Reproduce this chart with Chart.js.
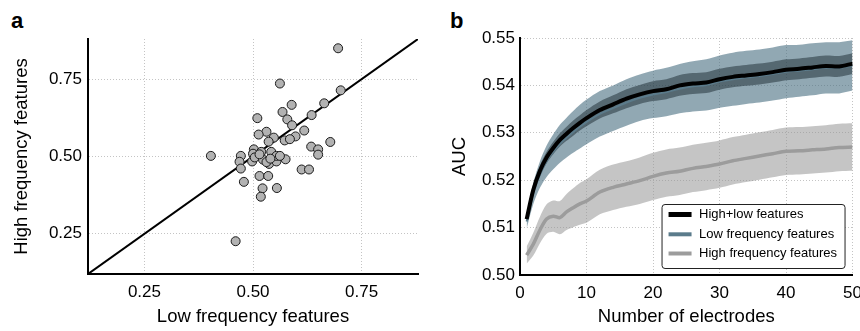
<!DOCTYPE html>
<html>
<head>
<meta charset="utf-8">
<script src="https://cdn.jsdelivr.net/npm/chart.js@4.4.1/dist/chart.umd.min.js"></script>
<style>
    body { margin: 0; width: 860px; height: 331px; overflow: hidden; background: #fff; position: relative; }
    .panel { position: absolute; top: 0; }
    .tag { position: absolute; font: bold 22px 'Liberation Sans', Arial, sans-serif; line-height: 22px; }
</style>
</head>
<body>
<div class="tag" style="left:11px; top:10px;">a</div>
<div class="tag" style="left:450px; top:10px;">b</div>
<div class="panel" style="left:0"><canvas id="scatter" width="430" height="331"></canvas></div>
<div class="panel" style="left:430px"><canvas id="auc" width="440" height="331"></canvas></div>
<script>
// panel a: per-electrode AUC, low vs high frequency features
var lowFreq = [0.696, 0.702, 0.562, 0.664, 0.589, 0.635, 0.568, 0.579, 0.510, 0.590,
    0.618, 0.598, 0.531, 0.513, 0.548, 0.536, 0.573, 0.585, 0.634, 0.650,
    0.650, 0.678, 0.502, 0.500, 0.403, 0.472, 0.469, 0.472, 0.479, 0.498,
    0.504, 0.519, 0.542, 0.523, 0.537, 0.554, 0.554, 0.575, 0.515, 0.535,
    0.522, 0.518, 0.555, 0.612, 0.629, 0.460, 0.531, 0.515, 0.562, 0.540];
var highFreq = [0.850, 0.714, 0.736, 0.672, 0.667, 0.634, 0.644, 0.620, 0.624, 0.601,
    0.584, 0.565, 0.580, 0.571, 0.561, 0.548, 0.552, 0.556, 0.532, 0.523,
    0.506, 0.547, 0.523, 0.509, 0.502, 0.502, 0.483, 0.461, 0.418, 0.484,
    0.497, 0.515, 0.515, 0.490, 0.476, 0.484, 0.502, 0.491, 0.437, 0.437,
    0.397, 0.370, 0.398, 0.458, 0.458, 0.226, 0.482, 0.507, 0.502, 0.493];
var identityLine = [0.12, 0.88];
var scatterTicks = [0.25, 0.50, 0.75];

// panel b: AUC vs number of electrodes (mean and CI half width)
var electrodes = [1, 2, 3, 4, 5, 6, 7, 8, 9, 10, 12, 14, 16, 18, 20, 22, 24, 26, 28, 30,
    32, 34, 36, 38, 40, 42, 44, 46, 48, 50];
var bothMean = [0.5118, 0.5180, 0.5220, 0.5248, 0.5268, 0.5285, 0.5298, 0.5310, 0.5321, 0.5331,
    0.5348, 0.5360, 0.5372, 0.5381, 0.5388, 0.5392, 0.5400, 0.5404, 0.5406, 0.5413,
    0.5418, 0.5421, 0.5424, 0.5428, 0.5433, 0.5435, 0.5438, 0.5441, 0.5440, 0.5446];
var bothErr = [0.0007, 0.0009, 0.0011, 0.0012, 0.0013, 0.0014, 0.0015, 0.0016, 0.0016, 0.0017,
    0.0018, 0.0019, 0.0020, 0.0020, 0.0021, 0.0021, 0.0022, 0.0022, 0.0022, 0.0022,
    0.0022, 0.0022, 0.0022, 0.0022, 0.0022, 0.0022, 0.0022, 0.0022, 0.0022, 0.0022];
var lowMean = [0.5113, 0.5172, 0.5212, 0.5240, 0.5260, 0.5277, 0.5290, 0.5302, 0.5313, 0.5323,
    0.5340, 0.5352, 0.5364, 0.5374, 0.5381, 0.5386, 0.5393, 0.5398, 0.5401, 0.5408,
    0.5413, 0.5417, 0.5420, 0.5424, 0.5429, 0.5431, 0.5434, 0.5437, 0.5437, 0.5442];
var lowErr = [0.0015, 0.0022, 0.0028, 0.0033, 0.0037, 0.0040, 0.0042, 0.0044, 0.0046, 0.0047,
    0.0048, 0.0048, 0.0049, 0.0049, 0.0050, 0.0051, 0.0052, 0.0053, 0.0054, 0.0055,
    0.0056, 0.0056, 0.0056, 0.0056, 0.0056, 0.0055, 0.0055, 0.0054, 0.0054, 0.0053];
var highMean = [0.5042, 0.5065, 0.5095, 0.5118, 0.5124, 0.5121, 0.5133, 0.5142, 0.5150, 0.5156,
    0.5175, 0.5185, 0.5192, 0.5199, 0.5208, 0.5215, 0.5219, 0.5225, 0.5229, 0.5234,
    0.5241, 0.5246, 0.5251, 0.5256, 0.5261, 0.5262, 0.5264, 0.5266, 0.5269, 0.5270];
var highErr = [0.0018, 0.0024, 0.0028, 0.0031, 0.0033, 0.0035, 0.0038, 0.0041, 0.0044, 0.0046,
    0.0047, 0.0048, 0.0048, 0.0049, 0.0050, 0.0050, 0.0050, 0.0050, 0.0050, 0.0050,
    0.0050, 0.0050, 0.0050, 0.0050, 0.0050, 0.0050, 0.0050, 0.0050, 0.0050, 0.0050];
var seriesNames = ["High+low features", "Low frequency features", "High frequency features"];
var lineColors = ["#000000", "#5b7b8b", "#9c9c9c"];

Chart.defaults.font.family = "'Liberation Sans', Arial, sans-serif";
Chart.defaults.color = "#000";
Chart.defaults.animation = false;

function pts(ys, sign, err) {
    return electrodes.map(function (x, i) {
        return { x: x, y: err ? ys[i] + sign * err[i] : ys[i] };
    });
}

function axis(min, max, title, titlePad) {
    return {
        type: "linear",
        min: min,
        max: max,
        border: { color: "#000", width: 2, dash: [1, 2] },
        grid: { color: "#c4c4c4", lineWidth: 1, drawTicks: false },
        ticks: { font: { size: 17 }, maxRotation: 0, autoSkip: false },
        title: { display: true, text: title, font: { size: 18.5 }, padding: titlePad },
    };
}

// panel a
var ax = axis(0.12, 0.88, "Low frequency features", { top: 0, bottom: 3 });
ax.afterBuildTicks = function (s) { s.ticks = scatterTicks.map(function (v) { return { value: v }; }); };
ax.afterFit = function (s) { s.height = 57; };
ax.ticks.padding = 8;
ax.ticks.callback = function (v) { return v.toFixed(2); };
var ay = axis(0.12, 0.88, "High frequency features", { top: 10.5, bottom: 0 });
ay.afterBuildTicks = ax.afterBuildTicks;
ay.afterFit = function (s) { s.width = 88; };
ay.ticks.padding = 6;
ay.ticks.callback = ax.ticks.callback;

new Chart("scatter", {
    type: "scatter",
    data: {
        datasets: [
            {
                data: lowFreq.map(function (x, i) { return { x: x, y: highFreq[i] }; }),
                backgroundColor: "#b2b2b2",
                borderColor: "#1a1a1a",
                borderWidth: 1,
                pointRadius: 4.5,
                order: 1,
            },
            {
                type: "line",
                data: identityLine.map(function (v) { return { x: v, y: v }; }),
                borderColor: "#000",
                borderWidth: 2,
                pointRadius: 0,
                order: 2,
            },
        ],
    },
    options: {
        responsive: false,
        layout: { padding: { left: 0, top: 39, right: 12, bottom: 0 } },
        plugins: { legend: { display: false }, tooltip: { enabled: false } },
        scales: { x: ax, y: ay },
    },
});

// panel b
var legendBox = {
    id: "legendBox",
    afterDraw: function (chart) {
        var ctx = chart.ctx, a = chart.chartArea;
        var x = a.right - 191, y = a.bottom - 71, w = 183, h = 64;
        ctx.save();
        ctx.fillStyle = "#fff";
        ctx.strokeStyle = "#222";
        ctx.lineWidth = 1;
        ctx.beginPath();
        ctx.roundRect(x + 0.5, y + 0.5, w, h, 3);
        ctx.fill();
        ctx.stroke();
        var rows = [10.5, 30.3, 49.5];
        var widths = [5, 4, 4];
        ctx.font = "13px 'Liberation Sans', Arial, sans-serif";
        ctx.textBaseline = "middle";
        for (var i = 0; i < seriesNames.length; i++) {
            ctx.strokeStyle = lineColors[i];
            ctx.lineWidth = widths[i];
            ctx.beginPath();
            ctx.moveTo(x + 7, y + rows[i]);
            ctx.lineTo(x + 30, y + rows[i]);
            ctx.stroke();
            ctx.fillStyle = "#000";
            ctx.fillText(seriesNames[i], x + 37.5, y + rows[i]);
        }
        ctx.restore();
    },
};

function band(mean, err, color, order) {
    return [
        { data: pts(mean, 1, err), fill: "+1", backgroundColor: color, borderWidth: 0, pointRadius: 0, tension: 0.3, order: order },
        { data: pts(mean, -1, err), fill: false, borderWidth: 0, pointRadius: 0, tension: 0.3, order: order },
    ];
}

function line(mean, color, width, order) {
    return { data: pts(mean), borderColor: color, borderWidth: width, pointRadius: 0, fill: false, tension: 0.3, order: order };
}

var bx = axis(0, 50, "Number of electrodes", { top: 0, bottom: 3 });
bx.ticks.stepSize = 10;
bx.ticks.padding = 8;
bx.afterFit = function (s) { s.height = 56; };
var by = axis(0.5, 0.55, "AUC", { top: 19, bottom: 0 });
by.ticks.stepSize = 0.01;
by.ticks.padding = 5;
by.ticks.callback = function (v) { return v.toFixed(2); };
by.afterFit = function (s) { s.width = 90; };

new Chart("auc", {
    type: "line",
    data: {
        datasets: []
            .concat(band(highMean, highErr, "rgba(150,150,150,0.55)", 9))
            .concat(band(lowMean, lowErr, "rgba(72,110,128,0.6)", 8))
            .concat(band(bothMean, bothErr, "rgba(25,40,48,0.5)", 7))
            .concat([
                line(highMean, lineColors[2], 3.5, 3),
                line(lowMean, lineColors[1], 2, 2),
                line(bothMean, lineColors[0], 4, 1),
            ]),
    },
    options: {
        responsive: false,
        layout: { padding: { left: 0, top: 38, right: 17, bottom: 0 } },
        plugins: { legend: { display: false }, tooltip: { enabled: false } },
        scales: { x: bx, y: by },
    },
    plugins: [legendBox],
});
</script>
</body>
</html>
